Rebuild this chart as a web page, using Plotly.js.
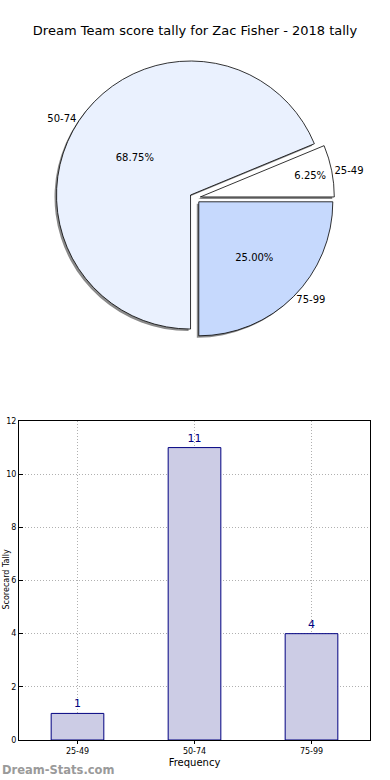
<!DOCTYPE html>
<html><head><meta charset="utf-8">
<script src="https://cdn.plot.ly/plotly-3.0.1.min.js"></script>
<style>html,body{margin:0;padding:0;background:#fff}#chart{width:390px;height:780px}</style>
</head><body><div id="chart"></div>
<script>
const categories = ['25-49', '50-74', '75-99'];
const counts = [1, 11, 4];
const chartTitle = 'Dream Team score tally for Zac Fisher - 2018 tally';
const xTitle = 'Frequency';
const yTitle = 'Scorecard Tally';
const yTicks = [0, 2, 4, 6, 8, 10, 12];

const FONT = 'DejaVu Sans, sans-serif';
const sliceColors = ['#ffffff', '#eaf1fe', '#c6d9fd'];
const pulls = [0.04, 0.04, 0.04];
const pieX = [0.1426, 0.8574], pieY = [0.5674, 0.9249];
const shX = -2 / 390, shY = -2 / 780;
const total = counts.reduce((a, b) => a + b, 0);
// first slice starts at 3 o'clock, going counterclockwise
const startRot = 90 - 360 * counts[0] / total;

const common = {
  type: 'pie', values: counts, labels: categories, sort: false,
  direction: 'counterclockwise', rotation: startRot, pull: pulls,
  hoverinfo: 'skip', showlegend: false
};
const shadow = Object.assign({}, common, {
  domain: {x: [pieX[0] + shX, pieX[1] + shX], y: [pieY[0] + shY, pieY[1] + shY]},
  marker: {colors: ['#8a8a8a', '#8a8a8a', '#8a8a8a'], line: {width: 0}},
  textinfo: 'none'
});
const main = Object.assign({}, common, {
  domain: {x: pieX, y: pieY},
  marker: {colors: sliceColors, line: {color: '#000', width: 0.8}},
  texttemplate: '%{percent:.2%}', textposition: 'inside',
  insidetextorientation: 'horizontal',
  textfont: {family: FONT, size: 10, color: '#000'}
});
const labelsTrace = Object.assign({}, common, {
  domain: {x: pieX, y: pieY},
  marker: {colors: ['rgba(0,0,0,0)', 'rgba(0,0,0,0)', 'rgba(0,0,0,0)'], line: {width: 0}},
  texttemplate: '%{label}', textposition: 'outside',
  outsidetextfont: {family: FONT, size: 10, color: '#000'}
});
const bars = {
  type: 'bar', x: categories, y: counts, width: 0.45,
  xaxis: 'x', yaxis: 'y',
  marker: {color: '#cccce5', line: {color: '#000080', width: 1}},
  text: counts.map(String), textposition: 'outside', cliponaxis: false,
  textfont: {family: FONT, size: 11, color: '#000080'},
  hoverinfo: 'skip', showlegend: false
};

const gridStyle = {showgrid: true, gridcolor: '#b0b0b0', griddash: '1px,2px', gridwidth: 1};

const layout = {
  width: 390, height: 780,
  margin: {l: 0, r: 0, t: 0, b: 0},
  paper_bgcolor: '#fff', plot_bgcolor: '#fff',
  font: {family: FONT, color: '#000'},
  uniformtext: {minsize: 10, mode: 'show'},
  title: {text: chartTitle, font: {family: FONT, size: 13, color: '#000'},
          x: 0.5, xanchor: 'center', y: 1 - 30 / 780, yanchor: 'middle'},
  xaxis: Object.assign({
    domain: [19 / 390, 370 / 390], range: [-0.5, 2.5], type: 'category',
    showline: true, linecolor: '#000', linewidth: 1, mirror: true,
    ticks: 'outside', ticklen: 3, tickcolor: '#000',
    tickfont: {family: FONT, size: 8, color: '#000'},
    title: {text: xTitle, font: {family: FONT, size: 10, color: '#000'}, standoff: 4},
    automargin: false, zeroline: false
  }, gridStyle),
  yaxis: Object.assign({
    domain: [40 / 780, 359 / 780], range: [0, 12], tickvals: yTicks,
    showline: true, linecolor: '#000', linewidth: 1, mirror: true,
    ticks: 'inside', ticklen: 4, tickcolor: '#000',
    tickfont: {family: FONT, size: 8, color: '#000'},
    automargin: false, zeroline: false
  }, gridStyle),
  annotations: [{
    text: yTitle, xref: 'paper', yref: 'paper', textangle: -90,
    x: 0, y: (780 - 580) / 780, xanchor: 'left', yanchor: 'middle', showarrow: false,
    borderpad: 0, font: {family: FONT, size: 8, color: '#000'}
  }, {
    text: 'Dream-Stats.com', xref: 'paper', yref: 'paper',
    x: 0, y: 10 / 780, xanchor: 'left', yanchor: 'middle', showarrow: false,
    font: {family: FONT, size: 11.5, color: '#9a9a9a', weight: 600}
  }]
};

Plotly.newPlot('chart', [shadow, main, labelsTrace, bars], layout, {staticPlot: true, displayModeBar: false});
</script>
</body></html>
